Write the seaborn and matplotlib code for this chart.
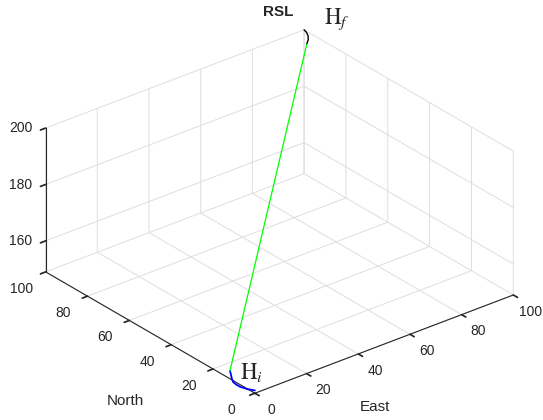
import matplotlib
matplotlib.use("Agg")
import matplotlib.pyplot as plt
import seaborn as sns
from mpl_toolkits.mplot3d import proj3d

sns.set_theme(style="white")
plt.rcParams["font.family"] = ["Liberation Sans", "DejaVu Sans"]
plt.rcParams["mathtext.fontset"] = "stix"

title = "RSL"
x_label = "East"
y_label = "North"
xy_ticks = [0, 20, 40, 60, 80, 100]
z_ticks = [160, 180, 200]
xy_limits = (0, 100)
z_limits = (149, 200)

# first turn (right), blue
arc1_east = [0.0, -1.3, -2.0, -2.0, -1.7, -0.6, 0.5, 2.1]
arc1_north = [0.0, 2.2, 4.6, 6.5, 8.3, 10.3, 12.0, 14.5]
arc1_up = [150, 150, 150, 150, 150, 150, 150, 150]
# straight segment, green
line_east = [2.1, 95.1]
line_north = [14.5, 92.6]
line_up = [150, 200]
# second turn (left), black
arc2_east = [95.1, 97.0, 98.55, 99.5, 100.0]
arc2_north = [92.6, 94.3, 96.3, 98.2, 100.0]
arc2_up = [200, 200, 200, 200, 200]

W, H = 543, 420
text_col = "#262626"
fig = plt.figure(figsize=(W / 100, H / 100), dpi=100)
ax = fig.add_axes([5 / W, 0, 1 - 5 / W, 406 / H], projection="3d")
ax.set_proj_type("ortho")
ax.view_init(elev=28, azim=-129)
ax.set_box_aspect((1, 1, 0.49), zoom=1.19)

ax.plot(arc1_east, arc1_north, arc1_up, color="#0000ff", lw=1.3)
ax.plot(line_east, line_north, line_up, color="#00ff00", lw=0.9)
ax.plot(arc2_east, arc2_north, arc2_up, color="black", lw=1.0)

ax.set_xlim(*xy_limits)
ax.set_ylim(*xy_limits)
ax.set_zlim(*z_limits)
ax.set_xticks(xy_ticks)
ax.set_yticks(xy_ticks)
ax.set_zticks(z_ticks)

grid_col = (0.87, 0.87, 0.87)
for axis in (ax.xaxis, ax.yaxis, ax.zaxis):
    axis.set_pane_color((1, 1, 1, 0))
    axis.pane.set_edgecolor(grid_col)
    axis._axinfo["grid"].update(color=grid_col, linewidth=0.7)
    axis._axinfo["tick"]["inward_factor"] = 0.25
    axis._axinfo["tick"]["outward_factor"] = 0.0
    axis.line.set_color(text_col)
    axis.line.set_linewidth(0.8)
    axis.set_tick_params(label1On=False, label2On=False, colors=text_col)
ax.grid(True)

fig.canvas.draw()
M = ax.get_proj()


def put_label(x, y, z, s):
    px, py, _ = proj3d.proj_transform(x, y, z, M)
    dx, dy = ax.transData.transform((px, py))
    fig.text(dx / W, dy / H, s, ha="center", va="center",
             fontsize=10, color=text_col)


# tick labels just outside the box edges
for v in xy_ticks:
    put_label(v, -8, 146.5, str(v))
    put_label(-9.3, v, 146.2, str(v))
for v in z_ticks:
    put_label(-5.9, 104.7, v, str(v))

fig.text(375 / W, 1 - 407 / H, x_label, ha="center", va="center",
         fontsize=11, color=text_col)
fig.text(125 / W, 1 - 401 / H, y_label, ha="center", va="center",
         fontsize=11, color=text_col)
fig.text(278 / W, 1 - 12.5 / H, title, ha="center", va="center",
         fontsize=11, fontweight="bold")
fig.text(324 / W, 1 - 19 / H, r"$\mathrm{H}_f$", fontsize=16.5, va="center")
fig.text(240 / W, 1 - 372 / H, r"$\mathrm{H}_i$", fontsize=16.5, va="center")

fig.savefig("out.png", dpi=100)
